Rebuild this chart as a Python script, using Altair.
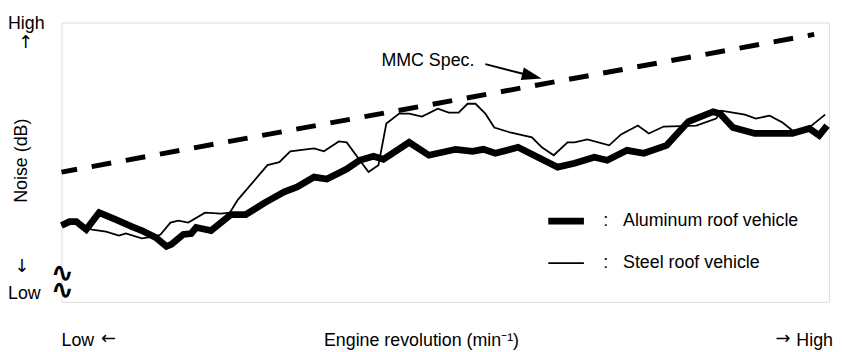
import altair as alt
import pandas as pd

# ---- data (arbitrary units: engine revolution 0..775, noise 0..282) ----
alu_rev = [0, 8, 15, 25, 38, 55, 71, 81, 95, 106, 111, 123, 131, 136, 141, 151, 161, 171, 186, 205,
           225, 238, 255, 268, 288, 301, 315, 325, 351, 371, 398, 415, 426, 438, 461, 481, 501, 518,
           538, 551, 571, 588, 611, 633, 658, 665, 678, 700, 738, 755, 765, 773]
alu_noise = [77, 81, 81, 73, 90, 83, 76, 72, 65, 56, 58, 68, 69, 75, 74, 72, 80, 88, 88, 100,
             111, 116, 126, 124, 134, 143, 147, 144, 161, 148, 154, 152, 154, 150, 156, 146, 136, 140,
             146, 143, 153, 150, 158, 182, 192, 190, 176, 170, 170, 175, 168, 178]

steel_rev = [0, 8, 15, 25, 31, 45, 58, 65, 81, 95, 100, 110, 118, 128, 145, 161, 170, 178, 208, 220,
             231, 255, 265, 280, 288, 299, 310, 320, 328, 341, 351, 364, 380, 391, 401, 410, 418, 428,
             437, 453, 475, 485, 497, 511, 518, 531, 553, 565, 582, 593, 608, 641, 661, 666, 678, 690,
             701, 715, 728, 738, 755, 761, 771]
steel_noise = [77, 81, 81, 75, 73, 71, 67, 69, 64, 66, 68, 80, 82, 80, 90, 89, 90, 103, 138, 141,
               152, 155, 152, 162, 161, 146, 131, 138, 180, 190, 190, 187, 195, 191, 191, 200, 200, 190,
               176, 171, 166, 156, 148, 161, 161, 164, 158, 169, 178, 170, 177, 178, 185, 193, 191, 189,
               185, 188, 181, 173, 176, 181, 189]

mmc_rev = [0, 760]
mmc_noise = [131, 270]

series_names = ["Aluminum roof vehicle", "Steel roof vehicle"]
mmc_label = "MMC Spec."
arrow_tail = [428, 240]
arrow_head = [475, 228]

FONT = "Liberation Sans"
AFONT = "DejaVu Sans"
FS = 18

df = pd.concat([
    pd.DataFrame({"rev": steel_rev, "noise": steel_noise, "series": series_names[1],
                  "ord": list(range(len(steel_rev)))}),
    pd.DataFrame({"rev": alu_rev, "noise": alu_noise, "series": series_names[0],
                  "ord": list(range(len(alu_rev)))}),
], ignore_index=True)
mmc_df = pd.DataFrame({"rev": mmc_rev, "noise": mmc_noise})
arrow_df = pd.DataFrame({"x1": [arrow_tail[0]], "y1": [arrow_tail[1]],
                         "x2": [arrow_head[0]], "y2": [arrow_head[1]]})
label_df = pd.DataFrame({"x": [323], "y": [243], "t": [mmc_label]})

xs = alt.Scale(domain=[0, 775], nice=False, zero=False)
ys = alt.Scale(domain=[0, 282], nice=False, zero=False)
sw = alt.Scale(domain=series_names, range=[6.8, 1.8])

x_axis = alt.Axis(title="Engine revolution (min⁻¹)", labels=False, ticks=False, domain=False,
                  grid=False, titleX=363, titleY=39, titleBaseline="middle", titleAlign="center",
                  titleFont=FONT, titleFontSize=FS, titleFontWeight="normal", titleColor="black")
y_axis = alt.Axis(title="Noise (dB)", labels=False, ticks=False, domain=False, grid=False,
                  titleX=-40, titleY=139, titleAngle=270, titleBaseline="middle",
                  titleAlign="center", titleFont=FONT, titleFontSize=FS,
                  titleFontWeight="normal", titleColor="black")

legend = alt.Legend(title=None, orient="none", legendX=488, legendY=179, symbolType="stroke",
                    symbolSize=1296, symbolStrokeColor="black",
                    labelExpr="':\u00a0\u00a0\u00a0' + datum.label",
                    labelFont=FONT, labelFontSize=FS, labelColor="black", labelOffset=16,
                    labelLimit=0, rowPadding=9, padding=0)

base = alt.Chart(df)
steel = base.transform_filter(alt.datum.series == series_names[1]).mark_line(
    color="black", strokeCap="butt").encode(
    x=alt.X("rev:Q", scale=xs, axis=x_axis),
    y=alt.Y("noise:Q", scale=ys, axis=y_axis),
    strokeWidth=alt.StrokeWidth("series:N", scale=sw, legend=legend),
    order="ord:Q")
alu = base.transform_filter(alt.datum.series == series_names[0]).mark_line(
    color="black", strokeCap="butt").encode(
    x=alt.X("rev:Q", scale=xs),
    y=alt.Y("noise:Q", scale=ys),
    strokeWidth=alt.StrokeWidth("series:N", scale=sw, legend=legend),
    order="ord:Q")

mmc = alt.Chart(mmc_df).mark_line(color="black", strokeWidth=5, strokeDash=[20, 15],
                                  strokeDashOffset=4, strokeCap="butt").encode(
    x=alt.X("rev:Q", scale=xs), y=alt.Y("noise:Q", scale=ys))

shaft = alt.Chart(arrow_df).mark_rule(color="black", strokeWidth=2).encode(
    x=alt.X("x1:Q", scale=xs), y=alt.Y("y1:Q", scale=ys), x2="x2:Q", y2="y2:Q")
head = alt.Chart(arrow_df).mark_point(shape="M-1,-0.65L1,0L-1,0.65Z", filled=True, color="black",
                                      size=400, angle=14, opacity=1).encode(
    x=alt.X("x2:Q", scale=xs), y=alt.Y("y2:Q", scale=ys))
mmc_text = alt.Chart(label_df).mark_text(align="left", baseline="middle", font=FONT,
                                         fontSize=FS, color="black").encode(
    x=alt.X("x:Q", scale=xs), y=alt.Y("y:Q", scale=ys), text="t:N")


def note(txt, x, y, align="left", font=FONT, size=FS, weight="normal", baseline="alphabetic"):
    return alt.Chart(pd.DataFrame({"t": [txt]})).mark_text(
        align=align, baseline=baseline, font=font, fontSize=size, fontWeight=weight,
        color="black").encode(x=alt.value(x), y=alt.value(y), text="t:N")


notes = [
    note("High", -54, 7),
    note("↑", -36, 21, align="center", font=AFONT, baseline="middle"),
    note("↓", -40, 247, align="center", font=AFONT, baseline="middle"),
    note("Low", -54, 279),
    note("∿", 1, 254, align="center", font=AFONT, size=28, weight="bold", baseline="middle"),
    note("∿", 1, 271, align="center", font=AFONT, size=28, weight="bold", baseline="middle"),
    note("Low", 0, 327),
    note("←", 40, 320, font=AFONT, baseline="middle"),
    note("→", 721, 320, font=AFONT, baseline="middle"),
    note("High", 779, 327, align="right"),
]

chart = alt.layer(steel, alu, mmc, shaft, head, mmc_text, *notes).properties(
    width=775, height=282,
    autosize=alt.AutoSizeParams(type="none"),
    padding={"left": 54, "top": 13, "right": 5, "bottom": 54},
).configure_view(stroke="black", strokeWidth=1.8).configure(background="white")

chart.save("out.html", embed_options={"renderer": "svg", "actions": False})
